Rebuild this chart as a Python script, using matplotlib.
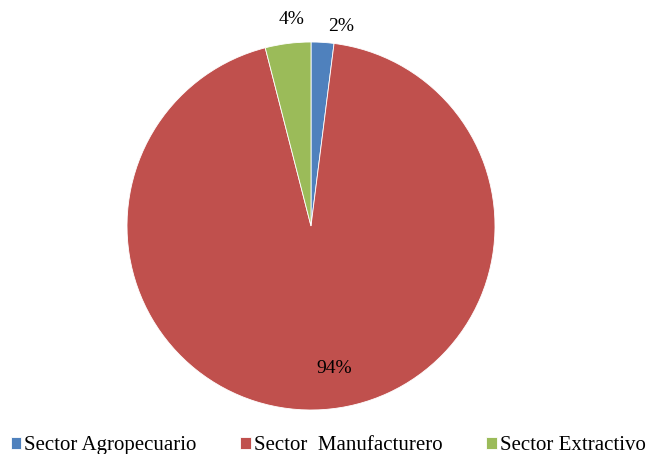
import matplotlib.pyplot as plt

sectores = ['Sector Agropecuario', 'Sector  Manufacturero', 'Sector Extractivo']
valores = [2, 94, 4]
colores = ['#4F81BD', '#C0504D', '#9BBB59']
etiquetas = ['2%', '94%', '4%']

plt.rcParams['font.family'] = ['Liberation Serif', 'DejaVu Serif']

fig = plt.figure(figsize=(6.49, 4.54), dpi=100)
ax = fig.add_axes([0.1957, 0.0969, 0.567, 0.8106])

wedges, _ = ax.pie(valores, colors=colores, startangle=90, counterclock=False,
                   radius=1, wedgeprops=dict(edgecolor='white', linewidth=0.6))
ax.set_xlim(-1, 1)
ax.set_ylim(-1, 1)
ax.set_aspect('equal')

pos = [(0.163, 1.085), (0.125, -0.772), (-0.103, 1.12)]
for (x, y), t in zip(pos, etiquetas):
    ax.text(x, y, t, ha='center', va='center', fontsize=14, clip_on=False)

fig.legend(wedges, sectores, loc='lower left', bbox_to_anchor=(-0.003, -0.03),
           ncol=3, frameon=False, fontsize=15, handlelength=0.5, handleheight=0.5,
           handletextpad=0.15, columnspacing=2.1, borderaxespad=0.2)

fig.savefig('out.png', dpi=100)
